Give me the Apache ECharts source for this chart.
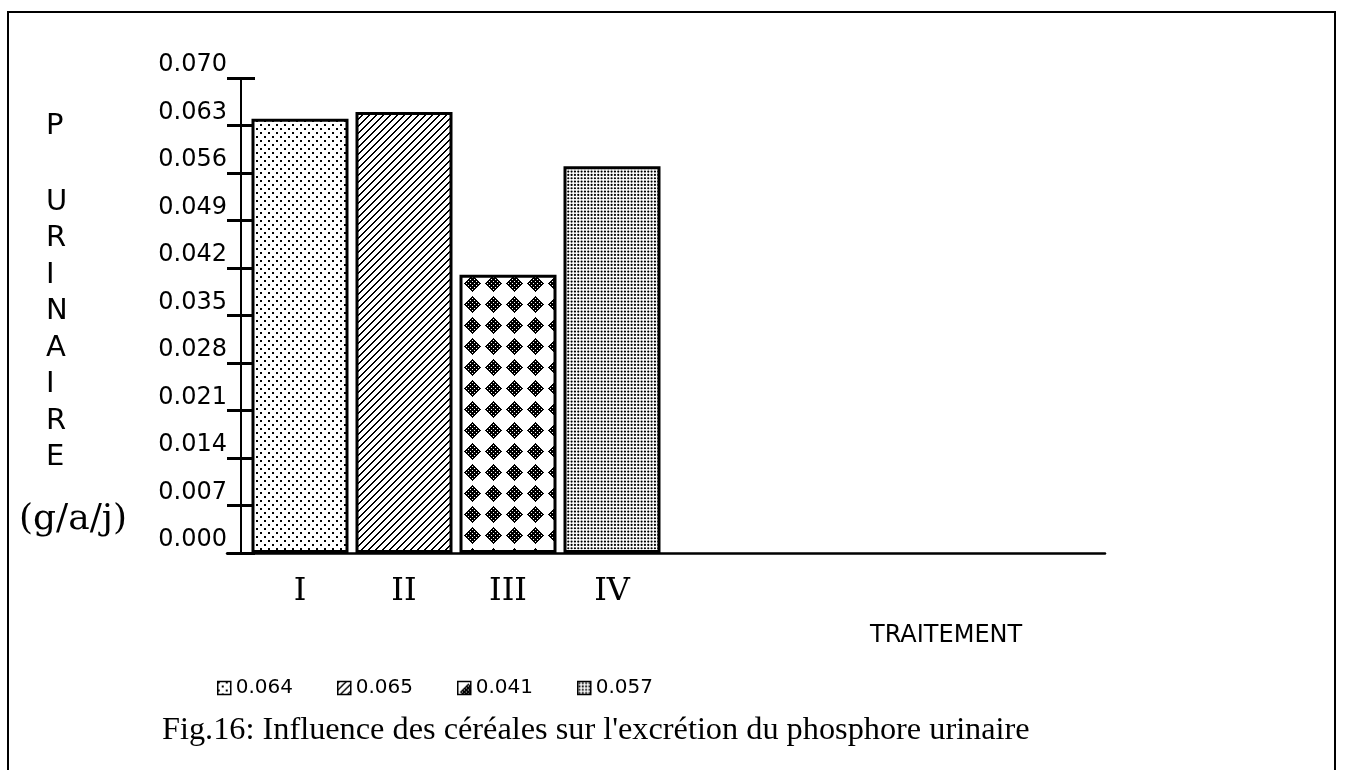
<!DOCTYPE html>
<html><head><meta charset="utf-8">
<script src="https://cdn.jsdelivr.net/npm/echarts@6/dist/echarts.min.js"></script>
<style>html,body{margin:0;padding:0;background:#fff}#c{width:1346px;height:770px}</style>
</head><body><div id="c"></div>
<script>
const categories = ['I', 'II', 'III', 'IV'];
const values = [0.064, 0.065, 0.041, 0.057];
const legendLabels = ['0.064', '0.065', '0.041', '0.057'];
const tickLabels = ['0.000','0.007','0.014','0.021','0.028','0.035','0.042','0.049','0.056','0.063','0.070'];
const yTitleLetters = ['P', 'U', 'R', 'I', 'N', 'A', 'I', 'R', 'E'];
const yUnit = '(g/a/j)';
const xTitle = 'TRAITEMENT';
const figTitle = "Fig.16: Influence des céréales sur l'excrétion du phosphore urinaire";

function makeTile(w, h, draw) {
  const c = document.createElement('canvas');
  c.width = w; c.height = h;
  const g = c.getContext('2d');
  g.fillStyle = '#fff'; g.fillRect(0, 0, w, h);
  g.fillStyle = '#000';
  draw(g, w, h);
  return c;
}
const patterns = [
  makeTile(8, 8, g => { g.fillRect(0, 0, 2, 2); g.fillRect(4, 4, 2, 2); }),
  makeTile(7, 7, (g, w, h) => { for (let y = 0; y < h; y++) for (let x = 0; x < w; x++) if ((x + y) % 7 < 2) g.fillRect(x, y, 1, 1); }),
  makeTile(21, 21, (g) => {
    for (let y = 0; y < 21; y++) for (let x = 0; x < 21; x++) {
      const dx = x - 10, dy = y - 10, d = Math.abs(dx) + Math.abs(dy);
      if (d <= 8) {
        const hole = ((dx + dy + 100) % 4 === 2) && ((dx - dy + 100) % 4 === 2);
        if (!hole) g.fillRect(x, y, 1, 1);
      }
    }
  }),
  makeTile(10, 10, g => {
    for (let i = 0; i < 3; i++) for (let j = 0; j < 3; j++) {
      g.beginPath(); g.arc(i * 10 / 3 + 1.6, j * 10 / 3 + 1.6, 1.1, 0, Math.PI * 2); g.fill();
    }
  })
];

const chart = echarts.init(document.getElementById('c'), null, { renderer: 'canvas' });

const series = values.map((v, i) => ({
  type: 'bar',
  name: legendLabels[i],
  stack: 'all',
  xAxisIndex: 0, yAxisIndex: 0,
  barWidth: 97,
  data: values.map((vv, j) => (j === i ? vv : null)),
  itemStyle: { color: { image: patterns[i], repeat: 'repeat' }, borderColor: '#000', borderWidth: 3 },
  emphasis: { disabled: true }
}));

const yLetterPos = [126, 202, 238, 275, 311, 348, 384, 421, 457];
const graphics = [
  { type: 'rect', shape: { x: 8, y: 12, width: 1327, height: 820 }, style: { fill: 'none', stroke: '#000', lineWidth: 2 }, silent: true }
];
yTitleLetters.forEach((t, i) => graphics.push({
  type: 'text', x: 46, y: yLetterPos[i],
  style: { text: t, fill: '#000', font: '29px "DejaVu Sans"', align: 'left', verticalAlign: 'middle' }
}));
graphics.push({ type: 'text', x: 73, y: 520, style: { text: yUnit, fill: '#000', font: '36px "DejaVu Serif"', align: 'center', verticalAlign: 'middle' } });
graphics.push({ type: 'text', x: 870, y: 636, style: { text: xTitle, fill: '#000', font: '24px "DejaVu Sans"', align: 'left', verticalAlign: 'middle' } });
graphics.push({ type: 'text', x: 162, y: 731, style: { text: figTitle, fill: '#000', font: '32.3px "Liberation Serif"', align: 'left', verticalAlign: 'middle' } });

const yCommon = { type: 'value', min: 0, max: 0.07, interval: 0.007, splitLine: { show: false }, position: 'left' };

chart.setOption({
  animation: false,
  backgroundColor: '#fff',
  grid: [
    { left: 248, width: 416, top: 78, bottom: 217 },
    { left: 227, width: 878, top: 78, bottom: 217 }
  ],
  xAxis: [
    { gridIndex: 0, type: 'category', data: categories,
      axisLine: { show: false }, axisTick: { show: false },
      axisLabel: { fontFamily: 'DejaVu Serif', fontSize: 32, color: '#000', margin: 23 } },
    { gridIndex: 1, type: 'value', min: 0, max: 1,
      axisLine: { show: true, lineStyle: { color: '#000', width: 2.5 } },
      axisTick: { show: false }, axisLabel: { show: false }, splitLine: { show: false } }
  ],
  yAxis: [
    Object.assign({}, yCommon, { gridIndex: 0, offset: 7,
      axisLine: { show: true, lineStyle: { color: '#000', width: 2 } },
      axisTick: { show: true, length: 14, lineStyle: { color: '#000', width: 3 } },
      axisLabel: { color: '#000', fontFamily: 'DejaVu Sans', fontSize: 24, margin: 14,
        verticalAlign: 'bottom', lineHeight: 26,
        formatter: v => tickLabels[Math.round(v / 0.007)] } }),
    Object.assign({}, yCommon, { gridIndex: 0, offset: 7,
      axisLine: { show: false },
      axisTick: { show: true, inside: true, length: 14, lineStyle: { color: '#000', width: 3 } },
      axisLabel: { show: false } }),
    { gridIndex: 1, type: 'value', show: false }
  ],
  legend: {
    left: 212, top: 673, itemWidth: 13, itemHeight: 13, itemGap: 44, icon: 'rect',
    data: legendLabels,
    itemStyle: { borderWidth: 1.5, borderColor: '#000' },
    textStyle: { fontFamily: 'DejaVu Sans', fontSize: 20, color: '#000' }
  },
  graphic: graphics,
  series: series
});
</script>
</body></html>
